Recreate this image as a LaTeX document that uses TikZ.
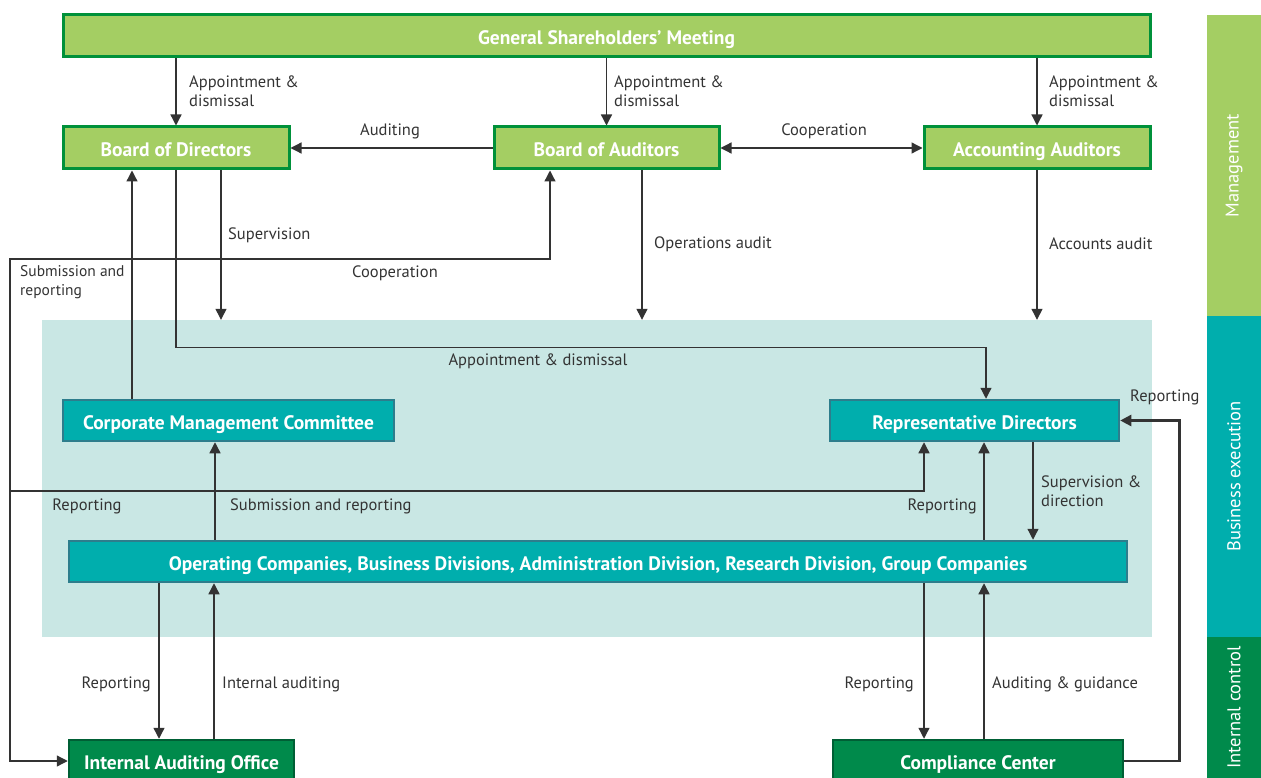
\documentclass[tikz,border=0pt]{standalone}
\usepackage{fontspec}
\setmainfont{PT Sans}
\usetikzlibrary{arrows.meta}
\definecolor{leafgreen}{HTML}{A4CE63}
\definecolor{framegreen}{HTML}{00913A}
\definecolor{tealfill}{HTML}{00AEAD}
\definecolor{tealframe}{HTML}{2D7D8C}
\definecolor{deepgreen}{HTML}{008A4B}
\definecolor{deepframe}{HTML}{005F35}
\definecolor{bandfill}{HTML}{C9E7E4}
\definecolor{inkgray}{HTML}{333333}

\begin{document}
\begin{tikzpicture}[x=1pt,y=-1pt,
    boxtext/.style={text=white,font=\bfseries\fontsize{19.5}{22}\selectfont,inner sep=0pt,text height=17pt,text depth=0pt},
    greenbox/.style={boxtext,draw=framegreen,line width=3pt,fill=leafgreen,minimum height=42pt},
    tealbox/.style={boxtext,draw=tealframe,line width=2.5pt,fill=tealfill,minimum height=41pt},
    darkbox/.style={boxtext,draw=deepframe,line width=2.5pt,fill=deepgreen,minimum height=42pt},
    arr/.style={draw=inkgray,line width=1.3pt,-{Triangle[length=11pt,width=11pt]}},
    lbl/.style={text=inkgray,font=\fontsize{16.5}{18.5}\selectfont,align=left,inner sep=0pt},
    sidebar/.style={rotate=90,text=white,font=\fontsize{18.5}{20}\selectfont,minimum height=54pt,inner sep=0pt}]
    \useasboundingbox (0,0) rectangle (1261,778);

    % business execution band
    \node[fill=bandfill,minimum width=1110pt,minimum height=317pt,inner sep=0pt] (band) at (597,478.5) {};

    % side bars
    \node[sidebar,fill=leafgreen,minimum width=301pt] (mgmt) at (1234,165.5) {Management};
    \node[sidebar,fill=tealfill,minimum width=321pt] (busx) at (1234,476.5) {Business execution};
    \node[sidebar,fill=deepgreen,minimum width=141pt] (intc) at (1234,707.5) {Internal control};

    % management level
    \node[greenbox,minimum width=1087pt] (gsm) at (606.5,36) {General Shareholders’ Meeting};
    \node[greenbox,minimum width=226pt] (bod) at (176,148) {Board of Directors};
    \node[greenbox,minimum width=225pt] (boa) at (606.5,148) {Board of Auditors};
    \node[greenbox,minimum width=226pt] (aa) at (1037,148) {Accounting Auditors};

    % execution level
    \node[tealbox,minimum width=331pt] (cmc) at (228.5,420.5) {Corporate Management Committee};
    \node[tealbox,minimum width=289pt] (rd) at (974.5,420.5) {Representative Directors};
    \node[tealbox,minimum width=1058pt] (opco) at (598,561.5) {Operating Companies, Business Divisions, Administration Division, Research Division, Group Companies};

    % internal control
    \node[darkbox,minimum width=225pt] (iao) at (181.5,761) {Internal Auditing Office};
    \node[darkbox,minimum width=290pt] (cc) at (978,761) {Compliance Center};

    % lanes
    \coordinate (xout) at (10,0);
    \coordinate (xcmc) at (132,0);
    \coordinate (xsup) at (221,0);
    \coordinate (xcoop) at (550,0);
    \coordinate (xops) at (642,0);
    \coordinate (xrdin) at (986,0);
    \coordinate (xrep) at (924,0);
    \coordinate (xup) at (984,0);
    \coordinate (xdir) at (1033,0);
    \coordinate (xsub) at (215,0);
    \coordinate (xiaodn) at (159,0);
    \coordinate (xiaoup) at (214,0);

    % appointment from the meeting
    \draw[arr] (gsm.south -| bod) -- (bod.north);
    \node[lbl,anchor=west] (l1) at (189,91) {Appointment \&\\dismissal};
    \draw[arr] (gsm.south -| boa) -- (boa.north);
    \node[lbl,anchor=west] (l2) at (614,91) {Appointment \&\\dismissal};
    \draw[arr] (gsm.south -| aa) -- (aa.north);
    \node[lbl,anchor=west] (l3) at (1049,91) {Appointment \&\\dismissal};

    % between the boards
    \draw[arr] (boa.west) -- (bod.east);
    \node[lbl] (l4) at (390,131) {Auditing};
    \draw[arr,{Triangle[length=11pt,width=11pt]}-{Triangle[length=11pt,width=11pt]}] (boa.east) -- (aa.west);
    \node[lbl] (l5) at (824,131) {Cooperation};

    % down into the band
    \draw[arr] (bod.south -| xsup) -- (band.north -| xsup);
    \node[lbl,anchor=west] (l6) at (228,235) {Supervision};
    \draw[arr] (boa.south -| xops) -- (band.north -| xops);
    \node[lbl,anchor=west] (l7) at (654,244) {Operations audit};
    \draw[arr] (aa.south) -- (band.north -| aa);
    \node[lbl,anchor=west] (l8) at (1049,244) {Accounts audit};

    \draw[arr] (bod.south) -- ++(0,177) -| (rd.north -| xrdin);
    \node[lbl] (l9) at (538,361) {Appointment \& dismissal};
    \draw[arr] (cmc.north -| xcmc) -- (bod.south -| xcmc);

    % outer loop
    \draw[arr,{Triangle[length=11pt,width=11pt]}-{Triangle[length=11pt,width=11pt]}] (iao.west) -| (10,259) -| (boa.south -| xcoop);
    \node[lbl,anchor=west,font=\fontsize{15.5}{18.5}\selectfont] (l10) at (20,282) {Submission and\\reporting};
    \node[lbl] (l11) at (395,273) {Cooperation};
    \draw[arr] (10,491) -| (rd.south -| xrep);
    \node[lbl] (l12) at (87,506) {Reporting};

    % execution flows
    \draw[arr] (opco.north -| xsub) -- (cmc.south -| xsub);
    \node[lbl,anchor=west] (l13) at (230,506) {Submission and reporting};
    \draw[arr] (rd.south -| xdir) -- (opco.north -| xdir);
    \node[lbl,anchor=west] (l14) at (1041,491) {Supervision \&\\direction};
    \draw[arr] (opco.north -| xup) -- (rd.south -| xup);
    \node[lbl,anchor=east] (l15) at (977,506) {Reporting};

    % internal control flows
    \draw[arr] (opco.south -| xiaodn) -- (iao.north -| xiaodn);
    \node[lbl,anchor=east] (l16) at (151,684) {Reporting};
    \draw[arr] (iao.north -| xiaoup) -- (opco.south -| xiaoup);
    \node[lbl,anchor=west] (l17) at (222,684) {Internal auditing};
    \draw[arr] (opco.south -| xrep) -- (cc.north -| xrep);
    \node[lbl,anchor=east] (l18) at (914,684) {Reporting};
    \draw[arr] (cc.north -| xup) -- (opco.south -| xup);
    \node[lbl,anchor=west] (l19) at (992,684) {Auditing \& guidance};
    \draw[arr,line width=2.5pt] (cc.east) -- ++(55,0) |- (rd.east);
    \node[lbl,anchor=west] (l20) at (1130,397) {Reporting};
\end{tikzpicture}
\end{document}
